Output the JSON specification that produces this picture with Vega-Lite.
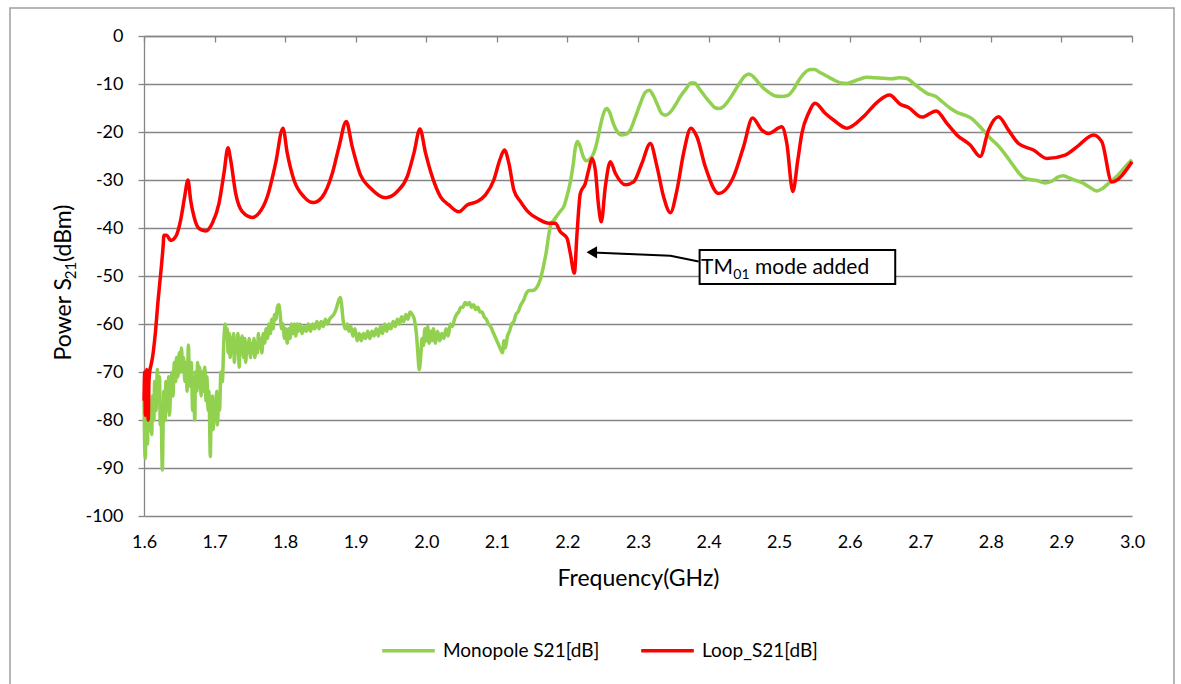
{
  "$schema": "https://vega.github.io/schema/vega-lite/v6.json",
  "width": 988,
  "height": 480,
  "autosize": {"type": "none"},
  "padding": {"left": 144, "top": 36, "right": 49, "bottom": 168},
  "background": "white",
  "config": {
    "view": {"stroke": null},
    "font": "Lato",
    "locale": {"number": {"decimal": ".", "thousands": ",", "grouping": [3], "currency": ["$", ""], "minus": "-"}}
  },
  "resolve": {"axis": {"x": "independent", "y": "independent"}},
  "datasets": {
    "monopole": [
      {"f":1.600,"dB":-76},{"f":1.601,"dB":-86},{"f":1.602,"dB":-88},{"f":1.603,"dB":-73},{"f":1.604,"dB":-80},{"f":1.605,"dB":-85},{"f":1.606,"dB":-74},{"f":1.608,"dB":-82},{"f":1.609,"dB":-77},{"f":1.611,"dB":-83},{"f":1.612,"dB":-75},{"f":1.614,"dB":-80},{"f":1.615,"dB":-72},{"f":1.617,"dB":-78},{"f":1.619,"dB":-69.5},{"f":1.620,"dB":-76},{"f":1.622,"dB":-71},{"f":1.623,"dB":-81},{"f":1.624,"dB":-77},{"f":1.626,"dB":-90.4},{"f":1.627,"dB":-82},{"f":1.628,"dB":-74},{"f":1.630,"dB":-80},{"f":1.631,"dB":-72},{"f":1.633,"dB":-78},{"f":1.635,"dB":-71},{"f":1.636,"dB":-79},{"f":1.638,"dB":-73},{"f":1.640,"dB":-70},{"f":1.641,"dB":-75},{"f":1.643,"dB":-68},{"f":1.645,"dB":-72},{"f":1.646,"dB":-67},{"f":1.648,"dB":-71},{"f":1.650,"dB":-66},{"f":1.652,"dB":-70},{"f":1.653,"dB":-65},{"f":1.655,"dB":-70},{"f":1.656,"dB":-67},{"f":1.658,"dB":-72},{"f":1.660,"dB":-68},{"f":1.661,"dB":-74},{"f":1.663,"dB":-64.4},{"f":1.664,"dB":-70},{"f":1.666,"dB":-73},{"f":1.667,"dB":-68},{"f":1.669,"dB":-78},{"f":1.670,"dB":-72},{"f":1.672,"dB":-80},{"f":1.673,"dB":-70},{"f":1.675,"dB":-74},{"f":1.676,"dB":-68},{"f":1.678,"dB":-73},{"f":1.679,"dB":-69},{"f":1.681,"dB":-75},{"f":1.683,"dB":-70},{"f":1.684,"dB":-74},{"f":1.686,"dB":-69},{"f":1.688,"dB":-76},{"f":1.689,"dB":-71},{"f":1.691,"dB":-78},{"f":1.692,"dB":-74},{"f":1.694,"dB":-87.6},{"f":1.695,"dB":-79},{"f":1.697,"dB":-75},{"f":1.698,"dB":-82},{"f":1.700,"dB":-76},{"f":1.701,"dB":-80},{"f":1.703,"dB":-74},{"f":1.704,"dB":-81},{"f":1.706,"dB":-75},{"f":1.707,"dB":-78},{"f":1.709,"dB":-70},{"f":1.711,"dB":-72},{"f":1.713,"dB":-64},{"f":1.715,"dB":-60},{"f":1.716,"dB":-63},{"f":1.718,"dB":-61},{"f":1.719,"dB":-66},{"f":1.721,"dB":-62},{"f":1.722,"dB":-67},{"f":1.724,"dB":-63},{"f":1.725,"dB":-66},{"f":1.727,"dB":-62},{"f":1.728,"dB":-68},{"f":1.730,"dB":-64},{"f":1.731,"dB":-66},{"f":1.733,"dB":-62},{"f":1.735,"dB":-69},{"f":1.736,"dB":-63},{"f":1.738,"dB":-66},{"f":1.739,"dB":-62.5},{"f":1.741,"dB":-67},{"f":1.743,"dB":-63},{"f":1.744,"dB":-68},{"f":1.746,"dB":-64},{"f":1.748,"dB":-66},{"f":1.749,"dB":-63},{"f":1.751,"dB":-67},{"f":1.752,"dB":-64},{"f":1.754,"dB":-66},{"f":1.756,"dB":-63},{"f":1.757,"dB":-67},{"f":1.759,"dB":-64},{"f":1.761,"dB":-66},{"f":1.762,"dB":-62},{"f":1.764,"dB":-65},{"f":1.766,"dB":-63},{"f":1.767,"dB":-66},{"f":1.769,"dB":-62},{"f":1.771,"dB":-64},{"f":1.773,"dB":-61},{"f":1.775,"dB":-63},{"f":1.777,"dB":-60},{"f":1.779,"dB":-62},{"f":1.781,"dB":-59},{"f":1.783,"dB":-61},{"f":1.785,"dB":-58},{"f":1.787,"dB":-59},{"f":1.789,"dB":-56.5},{"f":1.791,"dB":-56},{"f":1.793,"dB":-58},{"f":1.795,"dB":-61},{"f":1.797,"dB":-60},{"f":1.799,"dB":-63},{"f":1.801,"dB":-61},{"f":1.803,"dB":-64},{"f":1.805,"dB":-61},{"f":1.807,"dB":-63},{"f":1.809,"dB":-60},{"f":1.811,"dB":-62},{"f":1.813,"dB":-60},{"f":1.815,"dB":-62.5},{"f":1.817,"dB":-60},{"f":1.819,"dB":-61.5},{"f":1.821,"dB":-60},{"f":1.824,"dB":-62},{"f":1.827,"dB":-60.5},{"f":1.830,"dB":-61.5},{"f":1.833,"dB":-60},{"f":1.836,"dB":-61.5},{"f":1.839,"dB":-60},{"f":1.842,"dB":-61},{"f":1.845,"dB":-59.5},{"f":1.848,"dB":-61},{"f":1.851,"dB":-59.5},{"f":1.854,"dB":-60.5},{"f":1.857,"dB":-59},{"f":1.860,"dB":-60},{"f":1.863,"dB":-59},{"f":1.866,"dB":-58.5},{"f":1.869,"dB":-58},{"f":1.872,"dB":-57},{"f":1.875,"dB":-55.5},{"f":1.878,"dB":-54.5},{"f":1.880,"dB":-56},{"f":1.882,"dB":-59},{"f":1.885,"dB":-61},{"f":1.888,"dB":-60},{"f":1.890,"dB":-61.5},{"f":1.893,"dB":-60.5},{"f":1.896,"dB":-62.5},{"f":1.899,"dB":-61},{"f":1.902,"dB":-63.5},{"f":1.905,"dB":-62},{"f":1.908,"dB":-63.5},{"f":1.911,"dB":-62},{"f":1.914,"dB":-63},{"f":1.917,"dB":-61.5},{"f":1.920,"dB":-63},{"f":1.923,"dB":-61.5},{"f":1.926,"dB":-62.5},{"f":1.929,"dB":-61},{"f":1.932,"dB":-62.5},{"f":1.935,"dB":-60.5},{"f":1.938,"dB":-62},{"f":1.941,"dB":-60},{"f":1.944,"dB":-61.5},{"f":1.947,"dB":-60},{"f":1.950,"dB":-61},{"f":1.953,"dB":-59.5},{"f":1.956,"dB":-60.5},{"f":1.959,"dB":-59},{"f":1.962,"dB":-60},{"f":1.965,"dB":-58.5},{"f":1.968,"dB":-59.5},{"f":1.971,"dB":-58},{"f":1.974,"dB":-59},{"f":1.977,"dB":-57.5},{"f":1.980,"dB":-58},{"f":1.983,"dB":-59},{"f":1.986,"dB":-62},{"f":1.988,"dB":-66},{"f":1.990,"dB":-69.5},{"f":1.992,"dB":-67},{"f":1.994,"dB":-63},{"f":1.996,"dB":-64.5},{"f":1.998,"dB":-61},{"f":2.000,"dB":-63.5},{"f":2.002,"dB":-60.5},{"f":2.004,"dB":-64},{"f":2.006,"dB":-61.5},{"f":2.008,"dB":-63.5},{"f":2.010,"dB":-61},{"f":2.013,"dB":-64},{"f":2.016,"dB":-61.5},{"f":2.019,"dB":-63.5},{"f":2.022,"dB":-62},{"f":2.025,"dB":-63},{"f":2.028,"dB":-61},{"f":2.031,"dB":-62.5},{"f":2.034,"dB":-60},{"f":2.037,"dB":-60.5},{"f":2.040,"dB":-59},{"f":2.043,"dB":-58},{"f":2.046,"dB":-57.5},{"f":2.049,"dB":-56.5},{"f":2.052,"dB":-56.5},{"f":2.055,"dB":-55.5},{"f":2.058,"dB":-56},{"f":2.061,"dB":-55.5},{"f":2.064,"dB":-56.5},{"f":2.067,"dB":-56},{"f":2.070,"dB":-57},{"f":2.073,"dB":-56.5},{"f":2.076,"dB":-57.5},{"f":2.079,"dB":-57.5},{"f":2.082,"dB":-58.5},{"f":2.085,"dB":-59},{"f":2.088,"dB":-60},{"f":2.091,"dB":-60.5},{"f":2.094,"dB":-61.5},{"f":2.097,"dB":-62.5},{"f":2.100,"dB":-63.5},{"f":2.103,"dB":-64.5},{"f":2.106,"dB":-65.5},{"f":2.108,"dB":-66},{"f":2.110,"dB":-63.5},{"f":2.112,"dB":-65},{"f":2.115,"dB":-62.5},{"f":2.118,"dB":-61.5},{"f":2.121,"dB":-60},{"f":2.124,"dB":-59.5},{"f":2.127,"dB":-58},{"f":2.130,"dB":-57.5},{"f":2.134,"dB":-56},{"f":2.138,"dB":-55},{"f":2.142,"dB":-53.5},{"f":2.146,"dB":-53},{"f":2.150,"dB":-53},{"f":2.154,"dB":-52.8},{"f":2.158,"dB":-52},{"f":2.162,"dB":-50.5},{"f":2.166,"dB":-48},{"f":2.170,"dB":-45},{"f":2.174,"dB":-41},{"f":2.177,"dB":-39},{"f":2.180,"dB":-38.5},{"f":2.185,"dB":-37.5},{"f":2.190,"dB":-36.5},{"f":2.195,"dB":-35.5},{"f":2.200,"dB":-33},{"f":2.204,"dB":-30.5},{"f":2.208,"dB":-27},{"f":2.211,"dB":-23.5},{"f":2.214,"dB":-22},{"f":2.218,"dB":-23},{"f":2.222,"dB":-25},{"f":2.227,"dB":-26},{"f":2.232,"dB":-25.6},{"f":2.237,"dB":-24.5},{"f":2.242,"dB":-22},{"f":2.247,"dB":-18.5},{"f":2.252,"dB":-15.8},{"f":2.256,"dB":-15.1},{"f":2.260,"dB":-16},{"f":2.265,"dB":-18.2},{"f":2.270,"dB":-19.8},{"f":2.276,"dB":-20.6},{"f":2.282,"dB":-20.5},{"f":2.289,"dB":-19.6},{"f":2.296,"dB":-17},{"f":2.303,"dB":-14.2},{"f":2.310,"dB":-11.8},{"f":2.316,"dB":-11.3},{"f":2.322,"dB":-12.5},{"f":2.328,"dB":-14.5},{"f":2.334,"dB":-16.2},{"f":2.339,"dB":-16.5},{"f":2.345,"dB":-16},{"f":2.352,"dB":-14.6},{"f":2.360,"dB":-12.6},{"f":2.368,"dB":-11},{"f":2.375,"dB":-9.8},{"f":2.380,"dB":-9.8},{"f":2.387,"dB":-11},{"f":2.395,"dB":-12.6},{"f":2.403,"dB":-14},{"f":2.410,"dB":-15},{"f":2.415,"dB":-15.1},{"f":2.421,"dB":-14.7},{"f":2.428,"dB":-13.5},{"f":2.436,"dB":-11.7},{"f":2.444,"dB":-9.8},{"f":2.451,"dB":-8.4},{"f":2.457,"dB":-7.9},{"f":2.463,"dB":-8.4},{"f":2.470,"dB":-9.6},{"f":2.478,"dB":-10.9},{"f":2.487,"dB":-11.9},{"f":2.495,"dB":-12.5},{"f":2.503,"dB":-12.6},{"f":2.512,"dB":-12.4},{"f":2.520,"dB":-11.2},{"f":2.528,"dB":-9.2},{"f":2.536,"dB":-7.7},{"f":2.544,"dB":-7.0},{"f":2.550,"dB":-7.0},{"f":2.558,"dB":-7.6},{"f":2.568,"dB":-8.4},{"f":2.578,"dB":-9.2},{"f":2.588,"dB":-9.8},{"f":2.595,"dB":-9.9},{"f":2.604,"dB":-9.5},{"f":2.614,"dB":-9.0},{"f":2.624,"dB":-8.6},{"f":2.635,"dB":-8.7},{"f":2.648,"dB":-8.8},{"f":2.660,"dB":-8.9},{"f":2.670,"dB":-8.7},{"f":2.680,"dB":-8.8},{"f":2.690,"dB":-9.8},{"f":2.700,"dB":-11},{"f":2.710,"dB":-12},{"f":2.722,"dB":-12.6},{"f":2.732,"dB":-13.8},{"f":2.742,"dB":-15},{"f":2.752,"dB":-15.9},{"f":2.763,"dB":-16.5},{"f":2.773,"dB":-17.2},{"f":2.782,"dB":-18.5},{"f":2.790,"dB":-19.8},{"f":2.800,"dB":-21.4},{"f":2.810,"dB":-22.8},{"f":2.820,"dB":-24.6},{"f":2.830,"dB":-26.6},{"f":2.840,"dB":-28.6},{"f":2.846,"dB":-29.5},{"f":2.855,"dB":-29.9},{"f":2.865,"dB":-30.1},{"f":2.877,"dB":-30.6},{"f":2.887,"dB":-30.2},{"f":2.895,"dB":-29.4},{"f":2.902,"dB":-29.1},{"f":2.910,"dB":-29.5},{"f":2.920,"dB":-30.1},{"f":2.930,"dB":-30.6},{"f":2.940,"dB":-31.5},{"f":2.950,"dB":-32.3},{"f":2.958,"dB":-31.8},{"f":2.966,"dB":-30.8},{"f":2.975,"dB":-29.7},{"f":2.985,"dB":-28.2},{"f":2.993,"dB":-26.8},{"f":3.000,"dB":-25.8}
    ],
    "loop": [
      {"f":1.600,"dB":-76},{"f":1.601,"dB":-70},{"f":1.602,"dB":-79},{"f":1.603,"dB":-72},{"f":1.604,"dB":-69.5},{"f":1.605,"dB":-74},{"f":1.606,"dB":-80},{"f":1.607,"dB":-72},{"f":1.608,"dB":-70},{"f":1.610,"dB":-68.5},{"f":1.612,"dB":-67},{"f":1.616,"dB":-62},{"f":1.620,"dB":-55},{"f":1.624,"dB":-49},{"f":1.627,"dB":-44},{"f":1.6283,"dB":-41.5},{"f":1.6321,"dB":-41.5},{"f":1.6378,"dB":-42.6},{"f":1.6449,"dB":-41.8},{"f":1.652,"dB":-38.3},{"f":1.6576,"dB":-33.5},{"f":1.6623,"dB":-30},{"f":1.6661,"dB":-34.2},{"f":1.6708,"dB":-37.6},{"f":1.6779,"dB":-40.1},{"f":1.6874,"dB":-40.6},{"f":1.6968,"dB":-39.0},{"f":1.7062,"dB":-34.9},{"f":1.7133,"dB":-28.6},{"f":1.719,"dB":-23.3},{"f":1.7228,"dB":-25.8},{"f":1.7299,"dB":-32.8},{"f":1.7393,"dB":-36.6},{"f":1.7535,"dB":-37.8},{"f":1.7629,"dB":-36.9},{"f":1.7747,"dB":-33.5},{"f":1.7865,"dB":-26.5},{"f":1.7969,"dB":-19.2},{"f":1.803,"dB":-24.4},{"f":1.8125,"dB":-30},{"f":1.8267,"dB":-33.5},{"f":1.8399,"dB":-34.7},{"f":1.8527,"dB":-33.5},{"f":1.8669,"dB":-28.6},{"f":1.8763,"dB":-23.1},{"f":1.8866,"dB":-17.8},{"f":1.8951,"dB":-23.1},{"f":1.9069,"dB":-29},{"f":1.9211,"dB":-31.7},{"f":1.9423,"dB":-33.7},{"f":1.9589,"dB":-32.4},{"f":1.973,"dB":-29.3},{"f":1.9825,"dB":-24.4},{"f":1.991,"dB":-19.4},{"f":1.999,"dB":-24.4},{"f":2.0084,"dB":-29.3},{"f":2.0202,"dB":-33.5},{"f":2.032,"dB":-35.2},{"f":2.0462,"dB":-36.6},{"f":2.058,"dB":-35.2},{"f":2.0722,"dB":-34.5},{"f":2.0839,"dB":-33.1},{"f":2.0957,"dB":-30},{"f":2.1042,"dB":-25.8},{"f":2.1108,"dB":-23.75},{"f":2.117,"dB":-26.5},{"f":2.1241,"dB":-32.1},{"f":2.1335,"dB":-34.5},{"f":2.1454,"dB":-36.8},{"f":2.1596,"dB":-38.2},{"f":2.1737,"dB":-39.0},{"f":2.1829,"dB":-39.0},{"f":2.19,"dB":-40.8},{"f":2.1994,"dB":-42.15},{"f":2.2041,"dB":-45.3},{"f":2.2098,"dB":-49.4},{"f":2.2136,"dB":-41.1},{"f":2.2183,"dB":-32.8},{"f":2.2254,"dB":-30.7},{"f":2.2301,"dB":-27.9},{"f":2.2348,"dB":-25.5},{"f":2.2395,"dB":-27.9},{"f":2.2443,"dB":-35.6},{"f":2.248,"dB":-38.7},{"f":2.2537,"dB":-31.4},{"f":2.2608,"dB":-26.2},{"f":2.2679,"dB":-28.6},{"f":2.282,"dB":-31.0},{"f":2.2938,"dB":-30.4},{"f":2.3056,"dB":-26.5},{"f":2.3174,"dB":-22.4},{"f":2.3269,"dB":-27.2},{"f":2.3363,"dB":-33.5},{"f":2.3458,"dB":-36.8},{"f":2.3552,"dB":-32.1},{"f":2.3646,"dB":-24.4},{"f":2.375,"dB":-19.2},{"f":2.3835,"dB":-21},{"f":2.3953,"dB":-27.2},{"f":2.4142,"dB":-32.8},{"f":2.4354,"dB":-29.3},{"f":2.4495,"dB":-23.1},{"f":2.4623,"dB":-17.1},{"f":2.4755,"dB":-19.6},{"f":2.485,"dB":-20.3},{"f":2.5038,"dB":-18.9},{"f":2.5109,"dB":-22.4},{"f":2.5194,"dB":-32.4},{"f":2.5265,"dB":-25.8},{"f":2.5322,"dB":-20.3},{"f":2.5416,"dB":-16.1},{"f":2.551,"dB":-14.0},{"f":2.5652,"dB":-16.1},{"f":2.577,"dB":-17.5},{"f":2.5959,"dB":-19.2},{"f":2.6195,"dB":-16.8},{"f":2.6396,"dB":-13.7},{"f":2.6564,"dB":-12.3},{"f":2.6715,"dB":-14.2},{"f":2.6833,"dB":-14.9},{"f":2.7022,"dB":-16.9},{"f":2.7226,"dB":-15.6},{"f":2.7377,"dB":-18.2},{"f":2.7518,"dB":-20.6},{"f":2.7707,"dB":-22.7},{"f":2.7849,"dB":-25.1},{"f":2.7967,"dB":-19.6},{"f":2.8108,"dB":-16.8},{"f":2.825,"dB":-19.6},{"f":2.8392,"dB":-22.4},{"f":2.8604,"dB":-23.75},{"f":2.8793,"dB":-25.5},{"f":2.9053,"dB":-24.8},{"f":2.9218,"dB":-23.1},{"f":2.9454,"dB":-20.6},{"f":2.9572,"dB":-22},{"f":2.9713,"dB":-30.4},{"f":3.0,"dB":-26.2}
    ],
    "arrow": [
      {"f":2.3859,"dB":-47.0},{"f":2.346,"dB":-45.8},{"f":2.236,"dB":-45.1}
    ]
  },
  "layer": [
    {
      "data": {"name": "monopole"},
      "mark": {"type": "line", "strokeWidth": 3.5, "strokeJoin": "round", "interpolate": "monotone", "clip": false},
      "encoding": {
        "x": {
          "field": "f", "type": "quantitative",
          "scale": {"domain": [1.6, 3.0], "nice": false, "zero": false},
          "axis": {
            "orient": "bottom", "values": [1.6,1.7,1.8,1.9,2.0,2.1,2.2,2.3,2.4,2.5,2.6,2.7,2.8,2.9,3.0],
            "format": ".1f", "domain": false, "ticks": false, "grid": false,
            "labelFlush": false, "labelOverlap": false,
            "labelFont": "Lato", "labelFontSize": 18, "labelColor": "#000000", "labelPadding": 17,
            "title": "Frequency(GHz)", "titleFont": "Lato", "titleFontSize": 23, "titleFontWeight": "normal",
            "titleColor": "#000000", "titlePadding": 16
          }
        },
        "y": {
          "field": "dB", "type": "quantitative",
          "scale": {"domain": [-100, 0], "nice": false, "zero": false},
          "axis": {
            "orient": "left", "values": [-100,-90,-80,-70,-60,-50,-40,-30,-20,-10,0],
            "format": "d", "labelFlush": false, "labelOverlap": false,
            "domain": true, "domainColor": "#868686", "domainWidth": 1.3,
            "ticks": true, "tickColor": "#868686", "tickWidth": 1.3, "tickSize": 6,
            "grid": true, "gridColor": "#868686", "gridWidth": 1.3,
            "labelFont": "Lato", "labelFontSize": 18, "labelColor": "#000000", "labelPadding": 15,
            "title": null
          }
        },
        "color": {
          "datum": "Monopole S21[dB]",
          "scale": {"domain": ["Monopole S21[dB]", "Loop_S21[dB]"], "range": ["#92D050", "#FF0000"]},
          "legend": {
            "orient": "none", "legendX": 236, "legendY": 586, "direction": "horizontal", "title": null,
            "symbolType": "stroke", "symbolSize": 2770, "symbolStrokeWidth": 3.5,
            "labelFont": "Lato", "labelFontSize": 19, "labelColor": "#000000", "labelOffset": 6,
            "columnPadding": 34
          }
        }
      }
    },
    {
      "data": {"name": "loop"},
      "mark": {"type": "line", "strokeWidth": 3.5, "strokeJoin": "round", "interpolate": "monotone", "clip": false},
      "encoding": {
        "x": {"field": "f", "type": "quantitative", "axis": null},
        "y": {"field": "dB", "type": "quantitative", "axis": null},
        "color": {"datum": "Loop_S21[dB]"}
      }
    },
    {
      "data": {"values": [{}]},
      "mark": {"type": "rect", "filled": false, "stroke": "#9e9e9e", "strokeWidth": 1.5},
      "encoding": {
        "x": {"datum": 1.4101, "type": "quantitative", "axis": null},
        "x2": {"datum": 3.0595},
        "y": {"datum": 5.83, "type": "quantitative", "axis": null},
        "y2": {"datum": -140}
      }
    },
    {
      "data": {"name": "arrow"},
      "mark": {"type": "line", "color": "#000000", "strokeWidth": 2},
      "encoding": {
        "x": {
          "field": "f", "type": "quantitative",
          "axis": {
            "orient": "top", "values": [1.6,1.7,1.8,1.9,2.0,2.1,2.2,2.3,2.4,2.5,2.6,2.7,2.8,2.9,3.0],
            "labels": false, "title": null, "grid": false,
            "domain": true, "domainColor": "#868686", "domainWidth": 1.3,
            "ticks": true, "tickColor": "#868686", "tickWidth": 1.3, "tickSize": -6
          }
        },
        "y": {"field": "dB", "type": "quantitative", "axis": null}
      }
    },
    {
      "data": {"values": [{}]},
      "mark": {"type": "point", "shape": "triangle-left", "filled": true, "color": "#000000", "size": 150, "opacity": 1},
      "encoding": {
        "x": {"datum": 2.2345, "type": "quantitative", "axis": null},
        "y": {"datum": -45.06, "type": "quantitative", "axis": null}
      }
    },
    {
      "data": {"values": [{}]},
      "mark": {"type": "rect", "fill": "#ffffff", "stroke": "#000000", "strokeWidth": 2},
      "encoding": {
        "x": {"datum": 2.3873, "type": "quantitative", "axis": null},
        "x2": {"datum": 2.6645},
        "y": {"datum": -44.58, "type": "quantitative", "axis": null},
        "y2": {"datum": -51.67}
      }
    },
    {
      "data": {"values": [{}]},
      "mark": {"type": "text", "text": "TM", "font": "Lato", "fontSize": 21, "align": "right", "baseline": "alphabetic", "color": "#000000"},
      "encoding": {
        "x": {"datum": 2.4346, "type": "quantitative", "axis": null},
        "y": {"datum": -49.48, "type": "quantitative", "axis": null}
      }
    },
    {
      "data": {"values": [{}]},
      "mark": {"type": "text", "text": "01", "font": "Lato", "fontSize": 14, "align": "left", "baseline": "alphabetic", "color": "#000000"},
      "encoding": {
        "x": {"datum": 2.4350, "type": "quantitative", "axis": null},
        "y": {"datum": -50.7, "type": "quantitative", "axis": null}
      }
    },
    {
      "data": {"values": [{}]},
      "mark": {"type": "text", "text": "mode added", "font": "Lato", "fontSize": 21, "align": "left", "baseline": "alphabetic", "color": "#000000"},
      "encoding": {
        "x": {"datum": 2.4658, "type": "quantitative", "axis": null},
        "y": {"datum": -49.48, "type": "quantitative", "axis": null}
      }
    },
    {
      "data": {"values": [{}]},
      "mark": {"type": "text", "text": "Power S", "font": "Lato", "fontSize": 23, "angle": 270, "align": "right", "baseline": "alphabetic", "color": "#000000"},
      "encoding": {
        "x": {"datum": 1.4966, "type": "quantitative", "axis": null},
        "y": {"datum": -50.42, "type": "quantitative", "axis": null}
      }
    },
    {
      "data": {"values": [{}]},
      "mark": {"type": "text", "text": "21", "font": "Lato", "fontSize": 15, "angle": 270, "align": "center", "baseline": "alphabetic", "color": "#000000"},
      "encoding": {
        "x": {"datum": 1.5036, "type": "quantitative", "axis": null},
        "y": {"datum": -48.85, "type": "quantitative", "axis": null}
      }
    },
    {
      "data": {"values": [{}]},
      "mark": {"type": "text", "text": "(dBm)", "font": "Lato", "fontSize": 23, "angle": 270, "align": "left", "baseline": "alphabetic", "color": "#000000"},
      "encoding": {
        "x": {"datum": 1.4966, "type": "quantitative", "axis": null},
        "y": {"datum": -47.08, "type": "quantitative", "axis": null}
      }
    }
  ]
}
